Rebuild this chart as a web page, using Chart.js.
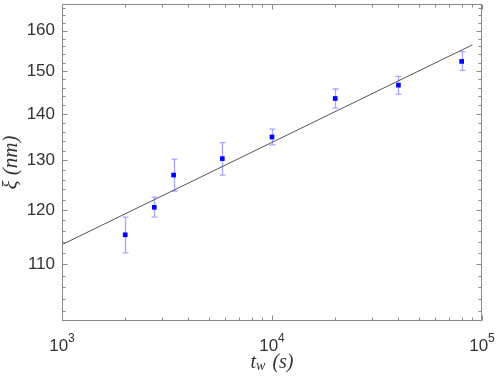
<!DOCTYPE html>
<html><head><meta charset="utf-8">
<script src="https://cdn.jsdelivr.net/npm/chart.js@4/dist/chart.umd.min.js"></script>
<style>html,body{margin:0;padding:0;background:#fff}canvas{display:block}</style>
</head><body>
<canvas id="c" width="498" height="379"></canvas>
<script>
// ---- data ----
const waitTimes = [2000, 2750, 3400, 5800, 10000, 20000, 40000, 80000];
const xiValues  = [115.3, 120.5, 126.9, 130.3, 134.9, 143.5, 146.6, 152.3];
const xiUpper   = [118.6, 122.5, 130.2, 133.7, 136.6, 145.7, 148.7, 154.7];
const xiLower   = [112.0, 118.6, 123.7, 126.9, 133.2, 141.3, 144.5, 150.1];
const fitT  = [1000, 90000];
const fitXi = [113.5, 156.4];
const xMajorTicks = [1000, 10000, 100000];
const xTickBase = '10';
const xTickExponents = ['3', '4', '5'];
const xMinorTicks = [2000, 3000, 4000, 5000, 6000, 7000, 8000, 9000,
                     20000, 30000, 40000, 50000, 60000, 70000, 80000, 90000];
const yMajorTicks = [110, 120, 130, 140, 150, 160];
const yMinorTicks = [102, 104, 106, 108, 112, 114, 116, 118, 122, 124, 126, 128,
                     132, 134, 136, 138, 142, 144, 146, 148, 152, 154, 156, 158,
                     162, 164, 166];
const xRange = [1000, 100000];
const yRange = [100.4, 167];

const AXIS_COLOR = '#8a8a8a';
const TEXT_COLOR = '#333333';

const noPad = s => { s.paddingTop = 0; s.paddingBottom = 0; s.paddingLeft = 0; s.paddingRight = 0; };

const decorPlugin = {
  id: 'decor',
  beforeDatasetsDraw(chart) {
    const { ctx, scales: { x, y } } = chart;
    ctx.save();
    ctx.strokeStyle = 'rgba(80,80,255,0.5)';
    ctx.lineWidth = 1.3;
    waitTimes.forEach((t, i) => {
      const px = Math.round(x.getPixelForValue(t)) + 0.5;
      const top = y.getPixelForValue(xiUpper[i]);
      const bot = y.getPixelForValue(xiLower[i]);
      ctx.beginPath();
      ctx.moveTo(px, top); ctx.lineTo(px, bot);
      ctx.moveTo(px - 3, top); ctx.lineTo(px + 3, top);
      ctx.moveTo(px - 3, bot); ctx.lineTo(px + 3, bot);
      ctx.stroke();
    });
    ctx.restore();
  },
  afterDraw(chart) {
    const { ctx, chartArea: a, scales: { x, y } } = chart;
    ctx.save();
    ctx.strokeStyle = AXIS_COLOR;
    ctx.lineWidth = 1;
    const L = Math.round(a.left) + 0.5, R = Math.round(a.right) - 0.5;
    const T = Math.round(a.top) + 0.5, B = Math.round(a.bottom) - 0.5;
    ctx.strokeRect(L, T, R - L, B - T);
    ctx.beginPath();
    const xt = (v, len) => {
      const p = Math.round(x.getPixelForValue(v)) + 0.5;
      ctx.moveTo(p, B); ctx.lineTo(p, B - len);
      ctx.moveTo(p, T); ctx.lineTo(p, T + len);
    };
    const yt = (v, len) => {
      const p = Math.round(y.getPixelForValue(v)) + 0.5;
      ctx.moveTo(L, p); ctx.lineTo(L + len, p);
      ctx.moveTo(R, p); ctx.lineTo(R - len, p);
    };
    xMajorTicks.forEach(v => xt(v, 5));
    xMinorTicks.forEach(v => xt(v, 3));
    yMajorTicks.forEach(v => yt(v, 5));
    yMinorTicks.forEach(v => yt(v, 3));
    ctx.stroke();

    ctx.fillStyle = TEXT_COLOR;
    ctx.textBaseline = 'alphabetic';

    // x tick labels: 10 with raised exponent, placed by the x scale
    const baseFont = '17px "Liberation Sans"';
    const expFont = '12px "Liberation Sans"';
    x.ticks.forEach(tk => {
      const i = xMajorTicks.indexOf(tk.value);
      if (i < 0) return;
      const px = x.getPixelForValue(tk.value);
      ctx.font = baseFont;
      const wb = ctx.measureText(xTickBase).width;
      ctx.font = expFont;
      const we = ctx.measureText(xTickExponents[i]).width;
      const start = px - (wb + we) / 2;
      ctx.textAlign = 'left';
      ctx.font = baseFont;
      ctx.fillText(xTickBase, start, 351);
      ctx.font = expFont;
      ctx.fillText(xTickExponents[i], start + wb, 342);
    });

    // axis titles
    const big = 'italic 20px "Liberation Serif"';
    const small = 'italic 14px "Liberation Serif"';
    const gap = 7;
    ctx.font = big;
    const wT = ctx.measureText('t').width;
    const wS = ctx.measureText('(s)').width;
    ctx.font = small;
    const wW = ctx.measureText('w').width;
    const total = wT + wW + gap + wS;
    let cx = 272 - total / 2;
    const base = 368;
    ctx.textAlign = 'left';
    ctx.font = big; ctx.fillText('t', cx, base); cx += wT;
    ctx.font = small; ctx.fillText('w', cx, base + 2); cx += wW + gap;
    ctx.font = big; ctx.fillText('(s)', cx, base);

    ctx.save();
    ctx.translate(17, (a.top + a.bottom) / 2);
    ctx.rotate(-Math.PI / 2);
    ctx.textAlign = 'center';
    ctx.font = 'italic 21px "Liberation Serif"';
    ctx.fillText('\u03BE (nm)', 0, 0);
    ctx.restore();
    ctx.restore();
  }
};

new Chart(document.getElementById('c'), {
  type: 'scatter',
  data: {
    datasets: [
      {
        label: 'fit',
        data: fitT.map((t, i) => ({ x: t, y: fitXi[i] })),
        showLine: true,
        borderColor: '#555555',
        borderWidth: 1,
        pointRadius: 0,
        order: 1
      },
      {
        label: 'xi',
        data: waitTimes.map((t, i) => ({ x: t, y: xiValues[i] })),
        pointStyle: 'rect',
        pointRadius: 3.3,
        backgroundColor: '#0000ff',
        borderColor: '#0000ff',
        borderWidth: 0,
        order: 0
      }
    ]
  },
  options: {
    responsive: false,
    devicePixelRatio: 1,
    animation: false,
    layout: { padding: { top: 2, right: 16, left: 0, bottom: 0 } },
    plugins: { legend: { display: false }, tooltip: { enabled: false } },
    scales: {
      x: {
        type: 'logarithmic',
        min: xRange[0], max: xRange[1],
        afterBuildTicks: s => { s.ticks = xMajorTicks.map(v => ({ value: v })); },
        afterFit: s => { s.height = 58; noPad(s); },
        grid: { display: false, drawTicks: false },
        border: { display: false },
        ticks: { display: false }
      },
      y: {
        type: 'logarithmic',
        min: yRange[0], max: yRange[1],
        afterBuildTicks: s => { s.ticks = yMajorTicks.map(v => ({ value: v })); },
        afterFit: s => { s.width = 62; noPad(s); },
        grid: { display: false, drawTicks: false },
        border: { display: false },
        ticks: {
          color: TEXT_COLOR,
          font: { family: '"Liberation Sans"', size: 17 },
          padding: 7,
          callback: (v) => String(v)
        }
      }
    }
  },
  plugins: [decorPlugin]
});
</script>
</body></html>
